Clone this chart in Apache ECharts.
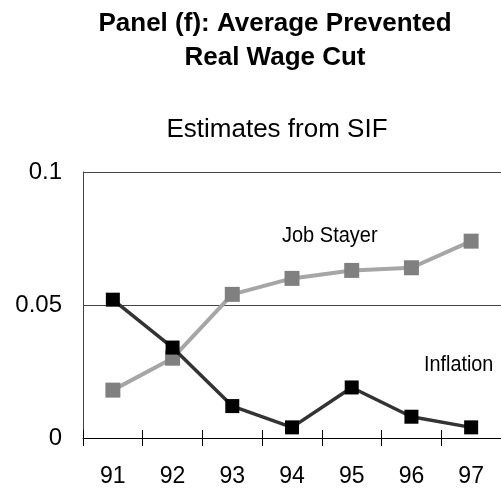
<!DOCTYPE html>
<html>
<head>
<meta charset="utf-8">
<script src="https://cdn.jsdelivr.net/npm/echarts@6/dist/echarts.min.js"></script>
<style>
  html, body { margin: 0; padding: 0; background: #fff; }
  #chart { width: 501px; height: 493px; }
</style>
</head>
<body>
<div id="chart"></div>
<script>
// Years on the horizontal axis
var years = ['91', '92', '93', '94', '95', '96', '97'];
// Average prevented real wage cut, by group
var jobStayer = [0.018, 0.030, 0.054, 0.060, 0.063, 0.064, 0.074];
var inflation = [0.052, 0.034, 0.012, 0.004, 0.019, 0.008, 0.004];
// Vertical axis ticks
var yTicks = [0, 0.05, 0.1];

var FONT = '"Liberation Sans", Arial, Helvetica, sans-serif';

var chart = echarts.init(document.getElementById('chart'), null, { renderer: 'canvas' });

chart.setOption({
  animation: false,
  backgroundColor: '#ffffff',
  title: [
    {
      text: 'Panel (f): Average Prevented\nReal Wage Cut',
      left: 270,
      top: 2,
      textAlign: 'center',
      textStyle: { fontFamily: FONT, fontSize: 26, fontWeight: 'bold', color: '#000', lineHeight: 34 }
    },
    {
      text: 'Estimates from SIF',
      left: 272,
      top: 112,
      textAlign: 'center',
      textStyle: { fontFamily: FONT, fontSize: 26, fontWeight: 'normal', color: '#000' }
    }
  ],
  grid: { left: 83, top: 172, width: 427, height: 266, containLabel: false },
  xAxis: [
    {
      type: 'category',
      data: years,
      boundaryGap: true,
      axisLine: { lineStyle: { color: '#000', width: 1 } },
      axisTick: { show: true, inside: false, length: 8, lineStyle: { color: '#000' } },
      axisLabel: { fontFamily: FONT, fontSize: 23, color: '#000', margin: 27 },
      splitLine: { show: false }
    },
    {
      type: 'category',
      data: years,
      position: 'bottom',
      boundaryGap: true,
      axisLine: { show: false },
      axisTick: { show: true, inside: true, length: 8, lineStyle: { color: '#000' } },
      axisLabel: { show: false },
      splitLine: { show: false }
    }
  ],
  yAxis: {
    type: 'value',
    min: yTicks[0],
    max: yTicks[yTicks.length - 1],
    interval: yTicks[1] - yTicks[0],
    axisLine: { show: true, lineStyle: { color: '#444', width: 1 } },
    axisTick: { show: false },
    axisLabel: {
      fontFamily: FONT, fontSize: 24, color: '#000', margin: 21,
      padding: [8, 0, 0, 0],
      formatter: function (v) { return String(+v.toFixed(2)); }
    },
    splitLine: { show: true, lineStyle: { color: '#444', width: 1 } }
  },
  series: [
    {
      name: 'Job Stayer',
      type: 'line',
      data: jobStayer,
      symbol: 'rect',
      symbolSize: 15,
      lineStyle: { color: '#a6a6a6', width: 4 },
      itemStyle: { color: '#808080' },
      z: 2
    },
    {
      name: 'Inflation',
      type: 'line',
      data: inflation,
      symbol: 'rect',
      symbolSize: 14,
      lineStyle: { color: '#333333', width: 3.5 },
      itemStyle: { color: '#000000' },
      z: 3
    }
  ],
  graphic: [
    {
      type: 'text',
      x: 282,
      y: 236,
      scaleY: 1.1,
      style: {
        text: 'Job Stayer', fontFamily: FONT, fontSize: 20, fill: '#000',
        align: 'left', verticalAlign: 'middle'
      }
    },
    {
      type: 'text',
      x: 424,
      y: 365,
      scaleX: 0.9,
      style: {
        text: 'Inflation', fontFamily: FONT, fontSize: 22, fill: '#000',
        align: 'left', verticalAlign: 'middle'
      }
    }
  ]
});
</script>
</body>
</html>
